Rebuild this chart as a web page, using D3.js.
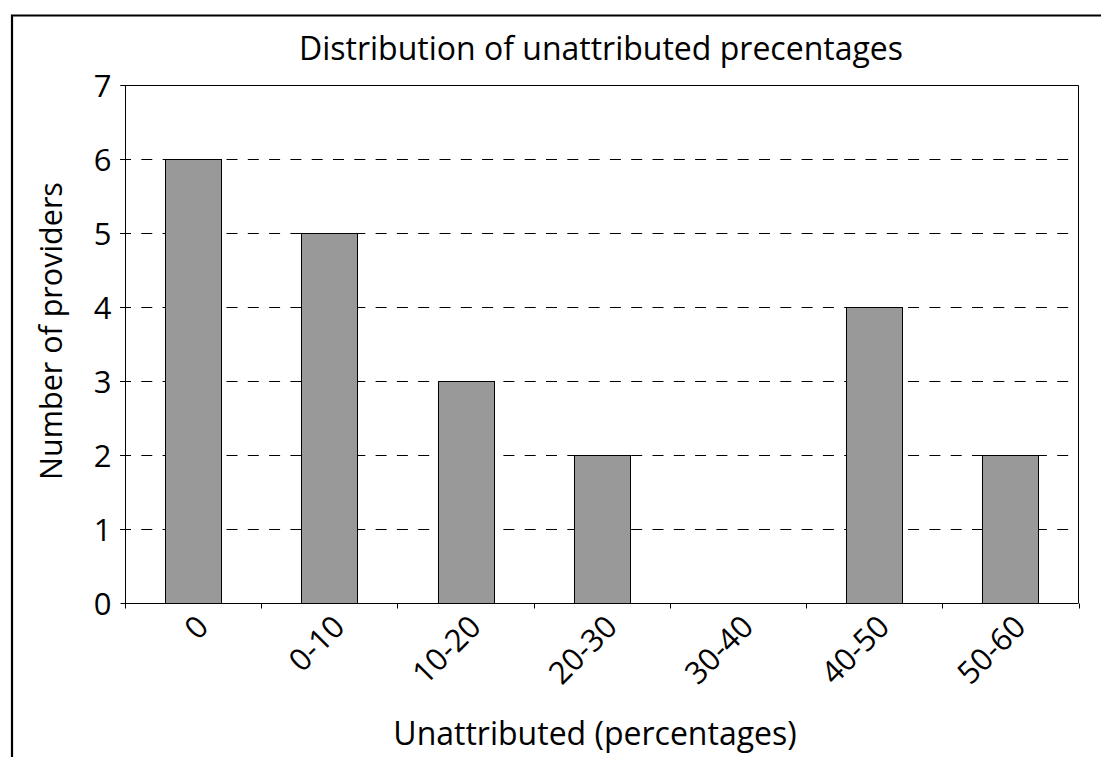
<!DOCTYPE html>
<html>
<head>
<meta charset="utf-8">
<script src="https://cdn.jsdelivr.net/npm/d3@7"></script>
<style>
  html, body { margin: 0; padding: 0; background: #fff; }
  svg { display: block; }
  text { font-family: "Open Sans", "Noto Sans", sans-serif; fill: #000; }
</style>
</head>
<body>
<svg id="chart" width="1101" height="757"></svg>
<script>
const categories = ["0", "0-10", "10-20", "20-30", "30-40", "40-50", "50-60"];
const providers = [6, 5, 3, 2, 0, 4, 2];
const yTicks = [0, 1, 2, 3, 4, 5, 6, 7];
const chartTitle = "Distribution of unattributed precentages";
const xTitle = "Unattributed (percentages)";
const yTitle = "Number of providers";

const svg = d3.select("#chart");
const W = 1101, H = 757;
const m = { left: 125, top: 85, right: 1078.5, bottom: 603 };

// outer frame (cropped at right and bottom)
svg.append("path")
  .attr("d", `M12,${H + 5}V15.5H${W + 5}`)
  .attr("fill", "none").attr("stroke", "#000").attr("stroke-width", 2.2);

const x = d3.scaleBand().domain(categories).range([m.left, m.right]).paddingInner(0).paddingOuter(0);
const y = d3.scaleLinear().domain([0, 7]).range([m.bottom, m.top]);

// gridlines
svg.append("g").selectAll("line").data(yTicks.filter(d => d > 0 && d < 7)).join("line")
  .attr("x1", m.left - 5).attr("x2", m.right - 3)
  .attr("y1", d => Math.round(y(d)) + 0.5).attr("y2", d => Math.round(y(d)) + 0.5)
  .attr("stroke", "#000").attr("stroke-width", 1).attr("stroke-dasharray", "11,10.3");

// plot border top & right
svg.append("path")
  .attr("d", `M${m.left},${m.top + 0.5}H${m.right}V${m.bottom}`)
  .attr("fill", "none").attr("stroke", "#000").attr("stroke-width", 1);

// bars
const bw = x.bandwidth() * 0.41;
svg.append("g").selectAll("rect").data(categories.map((c, i) => ({ c, v: providers[i] })).filter(d => d.v > 0)).join("rect")
  .attr("x", d => Math.round(x(d.c) + x.bandwidth() / 2 - bw / 2) + 0.5)
  .attr("y", d => Math.round(y(d.v)) + 0.5)
  .attr("width", Math.round(bw))
  .attr("height", d => Math.round(y(0)) - Math.round(y(d.v)))
  .attr("fill", "#999999").attr("stroke", "#000").attr("stroke-width", 1);

// y axis
const yAxis = d3.axisLeft(y).tickValues(yTicks).tickSize(5).tickPadding(9).tickFormat(d3.format("d"));
const gy = svg.append("g").attr("transform", `translate(${m.left + 0.5},0)`).call(yAxis);
gy.select(".domain").attr("d", `M-5,${m.top + 0.5}H0V${m.bottom + 0.5}`).attr("stroke", "#000");
gy.selectAll(".tick line").attr("stroke", "#000");
gy.selectAll(".tick text").attr("font-size", 31).attr("font-family", "'Open Sans', sans-serif").attr("dy", "0.36em");

// x axis
const boundaries = categories.map(c => x(c)).concat([m.right]);
const gx = svg.append("g").attr("transform", `translate(0,${Math.round(m.bottom) + 0.5})`);
gx.append("line").attr("x1", m.left).attr("x2", m.right).attr("stroke", "#000");
gx.selectAll("line.tk").data(boundaries).join("line").attr("class", "tk")
  .attr("x1", d => Math.round(d) + 0.5).attr("x2", d => Math.round(d) + 0.5)
  .attr("y1", 0).attr("y2", 5).attr("stroke", "#000");
gx.selectAll("text").data(categories).join("text")
  .attr("transform", d => `translate(${x(d) + x.bandwidth() / 2 + 1},9) rotate(-45)`)
  .attr("text-anchor", "end").attr("dy", "0.74em")
  .attr("font-size", 31)
  .text(d => d);

// titles
svg.append("text").attr("x", 601).attr("y", 60).attr("text-anchor", "middle")
  .attr("font-size", 32).text(chartTitle);
svg.append("text").attr("x", 595).attr("y", 745).attr("text-anchor", "middle")
  .attr("font-size", 32).text(xTitle);
svg.append("text").attr("transform", "translate(62,331) rotate(-90)").attr("text-anchor", "middle")
  .attr("font-size", 30.5).text(yTitle);
</script>
</body>
</html>
